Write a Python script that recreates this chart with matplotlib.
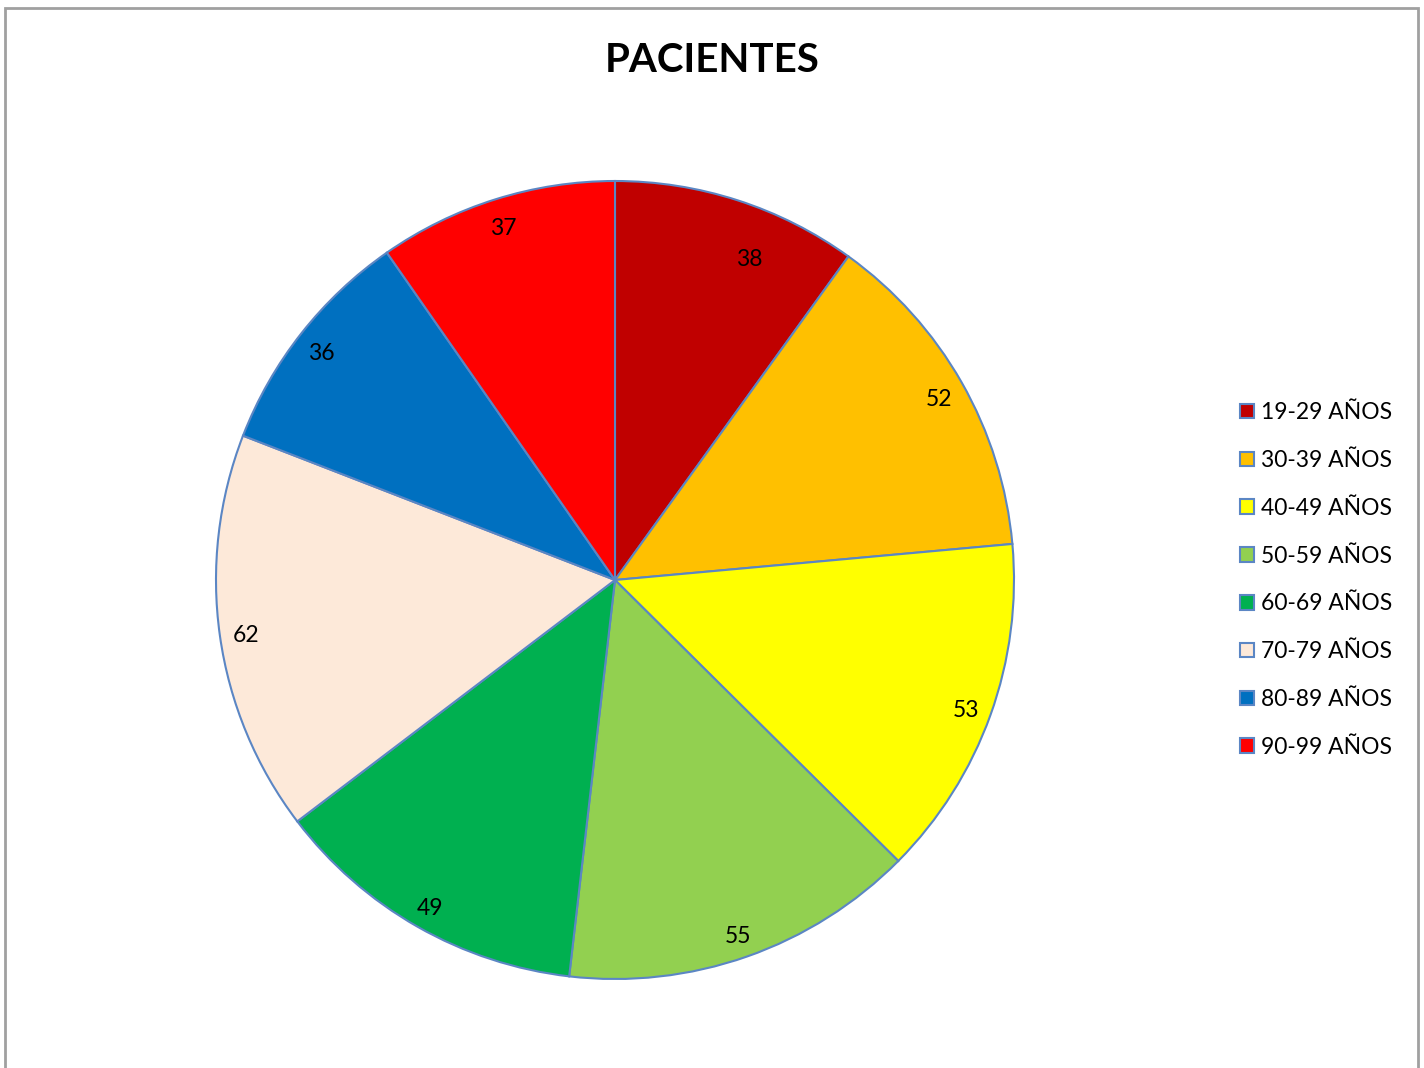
import matplotlib
matplotlib.use("Agg")
import numpy as np
import matplotlib.pyplot as plt
from matplotlib.patches import Rectangle

categories = ["19-29 AÑOS", "30-39 AÑOS", "40-49 AÑOS", "50-59 AÑOS",
              "60-69 AÑOS", "70-79 AÑOS", "80-89 AÑOS", "90-99 AÑOS"]
values = [38, 52, 53, 55, 49, 62, 36, 37]
colors = ["#C00000", "#FFC000", "#FFFF00", "#92D050",
          "#00B050", "#FDE9D9", "#0070C0", "#FF0000"]
title = "PACIENTES"

plt.rcParams['font.family'] = ['Lato', 'DejaVu Sans']

W, H = 1424, 1068
fig = plt.figure(figsize=(W / 100, H / 100), dpi=100)

cx, cy, r = 615, 580, 399
ax = fig.add_axes([(cx - r) / W, (H - cy - r) / H, 2 * r / W, 2 * r / H])
wedges, texts, autotexts = ax.pie(
    values, colors=colors, startangle=90, counterclock=False,
    autopct=lambda p: f"{round(p * sum(values) / 100):d}", pctdistance=0.935,
    wedgeprops=dict(edgecolor="#5B86C4", linewidth=1.5),
    textprops=dict(fontsize=16.5, color="black"), radius=1.0)
# first label placed a little off-centre, like the original's best-fit placement
ang = np.deg2rad(22.8)
autotexts[0].set_position((0.87 * np.sin(ang), 0.87 * np.cos(ang)))
for t in autotexts[1:]:
    x, y = t.get_position()
    t.set_position((x, y - 0.01))
ax.set_xlim(-1, 1)
ax.set_ylim(-1, 1)
ax.set_aspect("equal")
ax.axis("off")

fig.text(712 / W, 1 - 60 / H, title, ha="center", va="center",
         fontsize=29, fontweight="bold")

fig.legend(wedges, categories, loc="center left",
           bbox_to_anchor=(1219 / W, 1 - 580 / H), frameon=False,
           fontsize=16.5, handlelength=0.61, handleheight=0.61,
           handletextpad=0.32, labelspacing=1.17)

fig.add_artist(Rectangle((5 / W, -0.05), (1418 - 5) / W, 1 - 8 / H + 0.05,
                         transform=fig.transFigure, fill=False,
                         edgecolor="#A0A0A0", linewidth=2))

fig.savefig("out.png", dpi=100)
